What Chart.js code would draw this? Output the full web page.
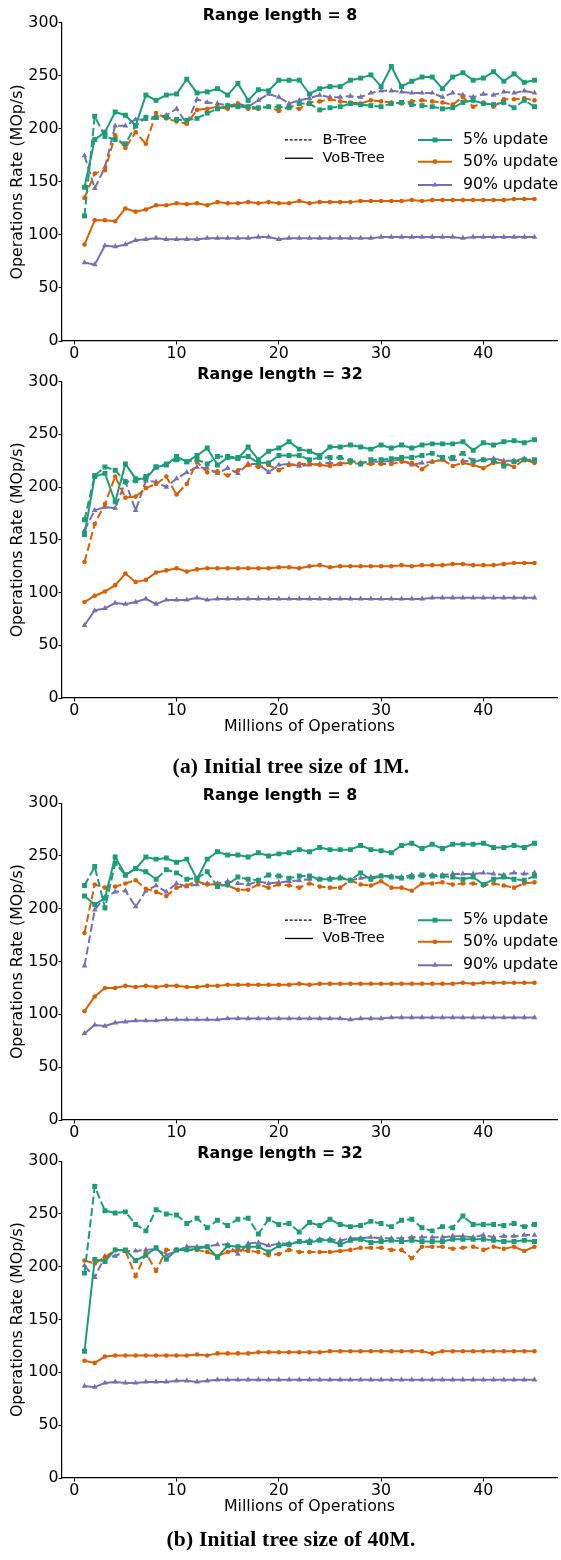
<!DOCTYPE html>
<html lang="en">
<head>
<meta charset="utf-8" />
<title>Range scan throughput</title>
<script src="https://cdn.jsdelivr.net/npm/chart.js@4.4.0/dist/chart.umd.min.js"></script>
<style>
    body { margin: 0; background: #fff; }
    #page { position: relative; width: 561px; height: 1560px; overflow: hidden; }
    canvas { position: absolute; left: 0; }
    .caption {
        position: absolute; left: 0; width: 582px; text-align: center; white-space: nowrap;
        font-family: "Liberation Serif", serif; font-weight: bold; font-size: 21.5px;
        letter-spacing: 0.2px; line-height: 25px;
    }
</style>
</head>
<body>
<div id="page">
    <canvas id="c1" width="561" height="367" style="top:0px"></canvas>
    <canvas id="c2" width="561" height="388" style="top:352px"></canvas>
    <div class="caption" style="top:754px">(a) Initial tree size of 1M.</div>
    <canvas id="c3" width="561" height="374" style="top:772px"></canvas>
    <canvas id="c4" width="561" height="390" style="top:1130px"></canvas>
    <div class="caption" style="top:1527px">(b) Initial tree size of 40M.</div>
</div>

<script>
// millions of operations (x)
const ops = [1,2,3,4,5,6,7,8,9,10,11,12,13,14,15,16,17,18,19,20,21,22,23,24,25,26,27,28,29,30,31,32,33,34,35,36,37,38,39,40,41,42,43,44,45];
const yTicks = [0, 50, 100, 150, 200, 250, 300];
const xTicks = [0, 10, 20, 30, 40];

// (a) 1M, range length 8
const a8_bt5   = [118,212,193,190,186,203,211,211,211,209,208,210,215,219,222,221,221,220,221,221,220,224,224,218,220,221,224,223,222,221,224,225,223,222,221,219,220,225,227,224,223,225,220,227,221];
const a8_vob5  = [145,190,197,216,213,203,232,227,232,233,247,234,235,238,232,243,227,237,236,246,246,246,233,238,240,240,246,248,251,240,259,240,245,249,249,238,249,253,246,248,254,245,252,244,246];
const a8_bt50  = [135,158,161,194,182,197,186,215,210,207,205,218,219,221,219,224,219,219,221,217,221,219,225,226,228,226,225,224,227,226,225,224,226,227,226,225,223,230,221,225,221,228,228,229,227];
const a8_vob50 = [91,114,114,113,125,122,124,128,128,130,129,130,128,131,130,130,131,130,131,130,130,132,130,131,131,131,131,132,132,132,132,132,133,132,133,133,133,133,133,133,133,133,134,134,134];
const a8_bt90  = [175,144,164,203,203,209,209,210,213,219,205,228,225,224,222,224,221,227,233,230,224,227,229,232,230,230,231,230,234,236,236,235,234,234,234,230,234,232,230,233,232,235,234,236,234];
const a8_vob90 = [74,72,90,89,91,95,96,97,96,96,96,96,97,97,97,97,97,98,98,96,97,97,97,97,97,97,97,97,97,98,98,98,98,98,98,98,98,97,98,98,98,98,98,98,98];

// (a) 1M, range length 32
const a32_bt5   = [169,211,219,216,205,206,210,219,222,226,224,226,222,229,229,228,229,223,223,230,230,230,226,228,228,228,225,222,226,226,227,228,228,230,232,228,228,232,225,226,225,220,224,226,226];
const a32_vob5  = [155,210,213,186,222,208,208,219,221,229,224,230,237,221,228,227,238,226,234,237,243,236,234,230,238,238,240,238,236,240,237,240,237,240,241,241,241,243,235,242,240,243,244,242,245];
const a32_bt50  = [129,165,184,210,190,191,199,203,210,193,203,224,214,215,211,216,221,219,221,216,221,222,222,221,220,222,223,222,222,222,222,224,223,217,224,226,220,223,221,218,223,223,219,226,223];
const a32_vob50 = [91,97,101,107,118,110,112,119,121,123,120,122,123,123,123,123,123,123,123,124,124,123,125,126,124,125,125,125,125,125,125,126,125,126,126,126,127,127,126,126,126,127,128,128,128];
const a32_bt90  = [159,178,181,180,205,178,206,205,200,208,214,219,218,213,218,213,222,222,214,221,222,220,221,222,223,222,225,223,224,224,225,226,221,223,224,226,226,225,224,226,227,225,225,227,224];
const a32_vob90 = [69,83,85,90,89,91,94,89,93,93,93,95,93,94,94,94,94,94,94,94,94,94,94,94,94,94,94,94,94,94,94,94,94,94,95,95,95,95,95,95,95,95,95,95,95];

// (b) 40M, range length 8
const b8_bt5   = [222,240,201,243,232,238,235,228,237,234,228,229,235,221,223,230,228,227,232,231,229,231,231,228,228,229,227,234,228,231,230,229,230,232,231,231,230,228,230,223,228,230,228,227,231];
const b8_vob5  = [212,204,210,249,232,238,249,247,248,244,247,228,247,254,251,251,249,253,250,252,253,256,254,258,256,256,256,260,256,255,253,260,262,257,261,257,261,261,261,262,258,258,260,258,262];
const b8_bt50  = [177,223,220,221,224,227,219,216,212,220,222,226,223,223,222,218,218,223,220,223,222,220,224,221,220,220,227,223,222,226,220,220,217,224,224,225,223,224,224,222,224,222,220,224,225];
const b8_vob50 = [103,117,125,125,127,126,127,126,127,127,126,126,127,127,128,128,128,128,128,128,128,129,128,129,129,129,129,129,129,129,129,129,129,129,129,129,129,130,129,130,130,130,130,130,130];
const b8_bt90  = [146,199,211,216,217,202,217,222,216,224,221,223,224,224,226,224,223,226,224,225,226,227,228,228,229,230,227,229,230,231,231,230,232,231,232,232,233,233,233,234,233,232,234,233,234];
const b8_vob90 = [82,90,89,92,93,94,94,94,95,95,95,95,95,95,96,96,96,96,96,96,96,96,96,96,96,96,95,96,96,96,97,97,97,97,97,97,97,97,97,97,97,97,97,97,97];

// (b) 40M, range length 32
const b32_bt5   = [194,276,253,251,252,240,234,254,250,249,241,246,237,244,239,245,246,231,245,240,241,233,242,239,245,240,238,239,243,241,238,244,245,237,234,238,237,248,240,240,240,239,241,238,240];
const b32_vob5  = [120,207,205,216,216,206,211,218,207,216,216,217,219,209,220,219,219,219,214,220,221,224,223,225,225,221,225,226,223,224,225,224,225,224,224,224,226,226,226,226,225,224,224,225,224];
const b32_bt50  = [206,203,209,216,215,191,213,196,216,216,216,216,214,210,214,216,215,214,211,212,216,214,214,214,214,215,216,218,218,218,216,216,208,219,219,219,217,218,219,216,219,217,219,215,219];
const b32_vob50 = [111,109,115,116,116,116,116,116,116,116,116,117,116,118,118,118,118,119,119,119,119,119,119,119,120,120,120,120,120,120,120,120,120,120,118,120,120,120,120,120,120,120,120,120,120];
const b32_bt90  = [201,190,210,210,215,215,216,217,211,215,219,219,219,221,221,212,222,223,220,222,222,224,225,226,226,225,227,227,228,227,227,227,228,228,228,228,229,229,228,230,228,229,229,230,230];
const b32_vob90 = [87,86,90,91,90,90,91,91,91,92,92,91,92,93,93,93,93,93,93,93,93,93,93,93,93,93,93,93,93,93,93,93,93,93,93,93,93,93,93,93,93,93,93,93,93];

const updates = ["5% update", "50% update", "90% update"];
const colors = ["#1b9e77", "#d95f02", "#7570b3"];
const markers = ["rect", "circle", "triangle"];
const markerSize = [3.5, 2.3, 3.3];

Chart.defaults.font.family = '"DejaVu Sans", sans-serif';
Chart.defaults.font.size = 15.8;
Chart.defaults.color = "#000";

function drawMarker(ctx, style, r, x, y) {
    ctx.beginPath();
    if (style === "rect") {
        const s = r * Math.SQRT1_2;
        ctx.rect(x - s, y - s, 2 * s, 2 * s);
    } else if (style === "circle") {
        ctx.arc(x, y, r, 0, Math.PI * 2);
    } else {
        ctx.moveTo(x, y - r);
        ctx.lineTo(x + r * 0.866, y + r * 0.5);
        ctx.lineTo(x - r * 0.866, y + r * 0.5);
        ctx.closePath();
    }
    ctx.fill();
}

// two legends: line style (tree type) and colour (update ratio)
const splitLegend = {
    id: "splitLegend",
    afterDraw(chart, args, opts) {
        if (!opts.show) return;
        const ctx = chart.ctx, a = chart.chartArea;
        ctx.save();
        ctx.textBaseline = "middle";
        ctx.font = '14.6px "DejaVu Sans"';
        ctx.fillStyle = "#000";
        ctx.strokeStyle = "#000";
        ctx.lineWidth = 1.3;
        [["B-Tree", [3, 1.7], 117], ["VoB-Tree", [], 135.3]].forEach(function (e) {
            const y = a.top + e[2];
            ctx.setLineDash(e[1]);
            ctx.beginPath();
            ctx.moveTo(a.left + 223, y);
            ctx.lineTo(a.left + 251, y);
            ctx.stroke();
            ctx.fillText(e[0], a.left + 260.5, y);
        });
        ctx.setLineDash([]);
        ctx.font = '15.7px "DejaVu Sans"';
        const rows = [117, 138.7, 162];
        updates.forEach(function (u, i) {
            const y = a.top + rows[i];
            ctx.strokeStyle = colors[i];
            ctx.fillStyle = colors[i];
            ctx.lineWidth = 2;
            ctx.beginPath();
            ctx.moveTo(a.left + 356, y);
            ctx.lineTo(a.left + 390, y);
            ctx.stroke();
            drawMarker(ctx, markers[i], markerSize[i], a.left + 373, y);
            ctx.fillStyle = "#000";
            ctx.fillText(u, a.left + 401, y);
        });
        ctx.restore();
    }
};

function series(vals, i, dashed) {
    return {
        data: vals.map(function (v, k) { return { x: ops[k], y: v }; }),
        borderColor: colors[i],
        backgroundColor: colors[i],
        borderWidth: 2,
        borderDash: dashed ? [8, 3.5] : [],
        pointStyle: markers[i],
        pointRadius: markerSize[i],
        pointBorderWidth: 0,
        pointBackgroundColor: colors[i],
        tension: 0
    };
}

function makePanel(id, title, data, padTop, showLegend, xTitle) {
    new Chart(document.getElementById(id), {
        type: "line",
        data: {
            datasets: [
                series(data[0], 0, true), series(data[1], 0, false),
                series(data[2], 1, true), series(data[3], 1, false),
                series(data[4], 2, true), series(data[5], 2, false)
            ]
        },
        options: {
            responsive: false,
            animation: false,
            devicePixelRatio: 1,
            layout: { padding: { top: padTop, right: 1, left: 0, bottom: 0 } },
            plugins: {
                legend: { display: false },
                tooltip: { enabled: false },
                title: {
                    display: true, text: title, color: "#000",
                    font: { size: 15.8, weight: "bold" },
                    padding: { top: 6.5, bottom: -2.5 }
                },
                splitLegend: { show: showLegend }
            },
            scales: {
                x: {
                    type: "linear", min: -1.2, max: 47.2,
                    afterBuildTicks: function (s) { s.ticks = xTicks.map(function (v) { return { value: v }; }); },
                    afterFit: function (s) { s.height = xTitle ? 42 : 26; },
                    grid: { drawOnChartArea: false, drawTicks: true, tickLength: 3.5, color: "#000" },
                    border: { color: "#000", width: 1.2 },
                    ticks: { padding: 0, maxRotation: 0 },
                    title: { display: !!xTitle, text: xTitle || "", padding: { top: 2, bottom: 4 } }
                },
                y: {
                    min: 0, max: 300,
                    afterBuildTicks: function (s) { s.ticks = yTicks.map(function (v) { return { value: v }; }); },
                    afterFit: function (s) { s.width = 62; },
                    grid: { drawOnChartArea: false, drawTicks: true, tickLength: 3.5, color: "#000" },
                    border: { color: "#000", width: 1.2 },
                    ticks: { padding: 0 },
                    title: { display: true, text: "Operations Rate (MOp/s)", padding: { top: 8, bottom: 0 } }
                }
            }
        },
        plugins: [splitLegend]
    });
}

makePanel("c1", "Range length = 8", [a8_bt5, a8_vob5, a8_bt50, a8_vob50, a8_bt90, a8_vob90], 0, true, null);
makePanel("c2", "Range length = 32", [a32_bt5, a32_vob5, a32_bt50, a32_vob50, a32_bt90, a32_vob90], 6.7, false, "Millions of Operations");
makePanel("c3", "Range length = 8", [b8_bt5, b8_vob5, b8_bt50, b8_vob50, b8_bt90, b8_vob90], 8.2, true, null);
makePanel("c4", "Range length = 32", [b32_bt5, b32_vob5, b32_bt50, b32_vob50, b32_bt90, b32_vob90], 8.2, false, "Millions of Operations");
</script>
</body>
</html>
